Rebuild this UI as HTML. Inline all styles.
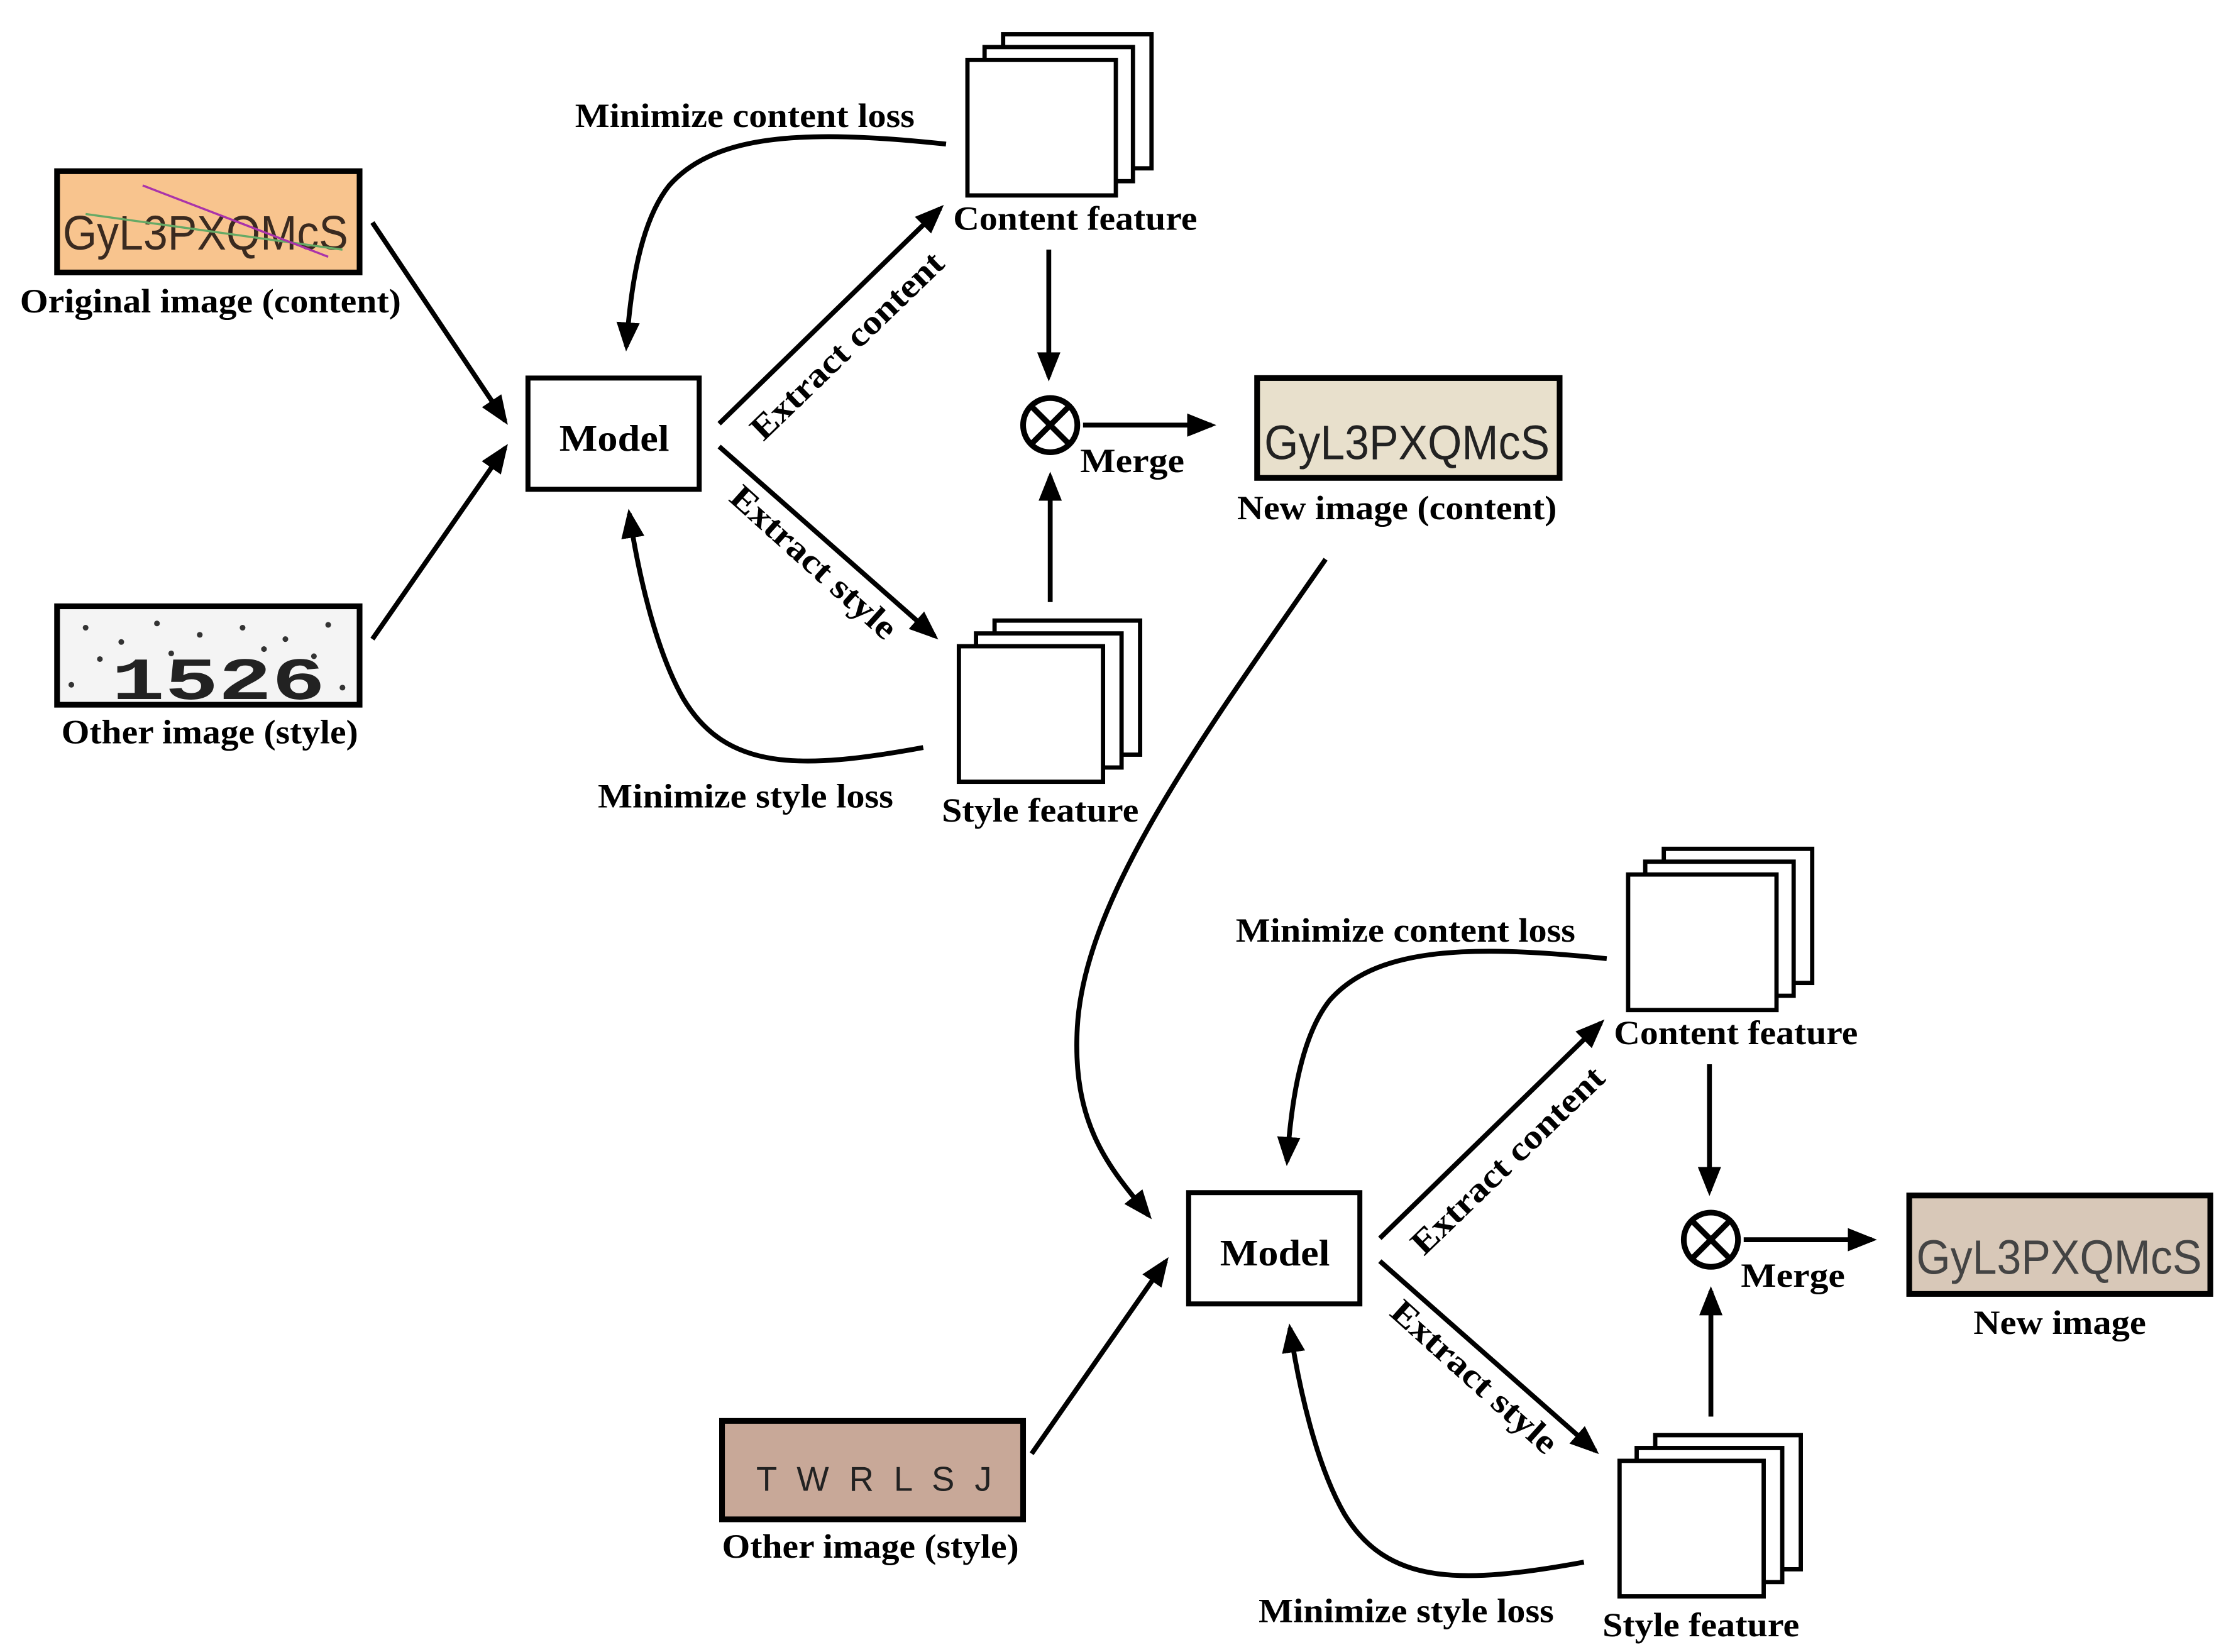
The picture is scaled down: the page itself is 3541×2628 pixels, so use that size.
<!DOCTYPE html>
<html><head><meta charset="utf-8"><style>html,body{margin:0;padding:0;background:#fff}svg{display:block}</style></head>
<body>
<svg width="3541" height="2628" viewBox="0 0 1560 1158" preserveAspectRatio="none" xmlns="http://www.w3.org/2000/svg" font-family="'Liberation Serif', serif" font-weight="bold">
<defs>
<marker id="ah" markerWidth="6" markerHeight="6" refX="5" refY="3" orient="auto" markerUnits="strokeWidth"><path d="M0,0.6 L6,3 L0,5.4 Z" fill="#000"/></marker>
</defs>
<g stroke="#000" stroke-width="3.4" fill="none">
<line x1="261" y1="156" x2="354" y2="295" marker-end="url(#ah)"/>
<line x1="261" y1="448" x2="354" y2="314" marker-end="url(#ah)"/>
<line x1="723" y1="1019" x2="817" y2="884" marker-end="url(#ah)"/>
<path d="M929,392 C840,520 760,630 755,720 C751,790 779,820 805,852" marker-end="url(#ah)"/>
</g>
<rect x="40" y="120" width="212" height="71" fill="#f8c48e" stroke="#000" stroke-width="4"/>
<text x="44" y="175" font-family="'Liberation Sans',sans-serif" font-weight="normal" font-size="34" fill="#3a2a20" textLength="200" lengthAdjust="spacingAndGlyphs">GyL3PXQMcS</text>
<line x1="60" y1="150" x2="240" y2="175" stroke="#6a6" stroke-width="1.5"/>
<line x1="100" y1="130" x2="230" y2="180" stroke="#a3a" stroke-width="1.5"/>
<rect x="40" y="425" width="212" height="69" fill="#f4f4f4" stroke="#000" stroke-width="4"/>
<g fill="#333"><circle cx="60" cy="440" r="2"/><circle cx="85" cy="450" r="2"/><circle cx="110" cy="437" r="2"/><circle cx="140" cy="445" r="2"/><circle cx="170" cy="440" r="2"/><circle cx="200" cy="448" r="2"/><circle cx="230" cy="438" r="2"/><circle cx="70" cy="462" r="2"/><circle cx="120" cy="458" r="2"/><circle cx="185" cy="455" r="2"/><circle cx="220" cy="460" r="2"/><circle cx="50" cy="480" r="2"/><circle cx="240" cy="482" r="2"/></g>
<text x="78" y="490" font-family="'Liberation Mono',monospace" font-size="42" fill="#222" textLength="150" lengthAdjust="spacingAndGlyphs">1526</text>
<rect x="881" y="265" width="212" height="70" fill="#e8e0cc" stroke="#000" stroke-width="4"/>
<text x="886" y="322" font-family="'Liberation Sans',sans-serif" font-weight="normal" font-size="34" fill="#222" textLength="200" lengthAdjust="spacingAndGlyphs">GyL3PXQMcS</text>
<rect x="506" y="996" width="211" height="69" fill="#c8a898" stroke="#000" stroke-width="4"/>
<text x="530" y="1045" font-family="'Liberation Sans',sans-serif" font-weight="normal" font-size="24" fill="#222" textLength="165" lengthAdjust="spacing">T W R L S J</text>
<rect x="1338" y="838" width="211" height="69" fill="#d8c8b8" stroke="#000" stroke-width="4"/>
<text x="1343" y="893" font-family="'Liberation Sans',sans-serif" font-weight="normal" font-size="34" fill="#444" textLength="200" lengthAdjust="spacingAndGlyphs">GyL3PXQMcS</text>
<g font-size="24" lengthAdjust="spacingAndGlyphs">
<text x="14" y="219" textLength="267" lengthAdjust="spacingAndGlyphs">Original image (content)</text>
<text x="43" y="521" textLength="208" lengthAdjust="spacingAndGlyphs">Other image (style)</text>
<text x="867" y="364" textLength="224" lengthAdjust="spacingAndGlyphs">New image (content)</text>
<text x="506" y="1092" textLength="208" lengthAdjust="spacingAndGlyphs">Other image (style)</text>
<text x="1383" y="935" textLength="121" lengthAdjust="spacingAndGlyphs">New image</text>
</g>
<g id="blk">
<rect x="370" y="265" width="120" height="78" fill="#fff" stroke="#000" stroke-width="3.5"/>
<text x="392" y="316" font-size="26" textLength="77" lengthAdjust="spacingAndGlyphs">Model</text>
<g fill="#fff" stroke="#000" stroke-width="3">
<rect x="703" y="24" width="104" height="94"/><rect x="690" y="33" width="104" height="94"/><rect x="678" y="42" width="104" height="95"/>
<rect x="697" y="435" width="102" height="94"/><rect x="684" y="444" width="102" height="94"/><rect x="672" y="453" width="101" height="95"/>
</g>
<g stroke="#000" stroke-width="3.4" fill="none">
<line x1="504" y1="297" x2="659" y2="146" marker-end="url(#ah)"/>
<line x1="504" y1="313" x2="655" y2="446" marker-end="url(#ah)"/>
<path d="M663,101 C560,90 500,95 469,130 C449,155 442,200 439,243" marker-end="url(#ah)"/>
<path d="M647,524 C560,540 509,540 479,490 C459,455 447,400 441,360" marker-end="url(#ah)"/>
<line x1="735" y1="175" x2="735" y2="264" marker-end="url(#ah)"/>
<line x1="736" y1="422" x2="736" y2="334" marker-end="url(#ah)"/>
<line x1="759" y1="298" x2="849" y2="298" marker-end="url(#ah)"/>
<circle cx="736" cy="298" r="19" stroke-width="4"/>
<line x1="723" y1="285" x2="749" y2="311" stroke-width="4"/>
<line x1="749" y1="285" x2="723" y2="311" stroke-width="4"/>
</g>
<g font-size="24">
<text x="668" y="161" textLength="171" lengthAdjust="spacingAndGlyphs">Content feature</text>
<text x="660" y="576" textLength="138" lengthAdjust="spacingAndGlyphs">Style feature</text>
<text x="403" y="89" textLength="238" lengthAdjust="spacingAndGlyphs">Minimize content loss</text>
<text x="419" y="566" textLength="207" lengthAdjust="spacingAndGlyphs">Minimize style loss</text>
<text x="757" y="331" textLength="73" lengthAdjust="spacingAndGlyphs">Merge</text>
<text transform="translate(599,248) rotate(-44)" text-anchor="middle" textLength="178" lengthAdjust="spacingAndGlyphs">Extract content</text>
<text transform="translate(565,400) rotate(42)" text-anchor="middle" textLength="148" lengthAdjust="spacingAndGlyphs">Extract style</text>
</g>
</g>
<use href="#blk" transform="translate(463,571)"/>
</svg>
</body></html>
